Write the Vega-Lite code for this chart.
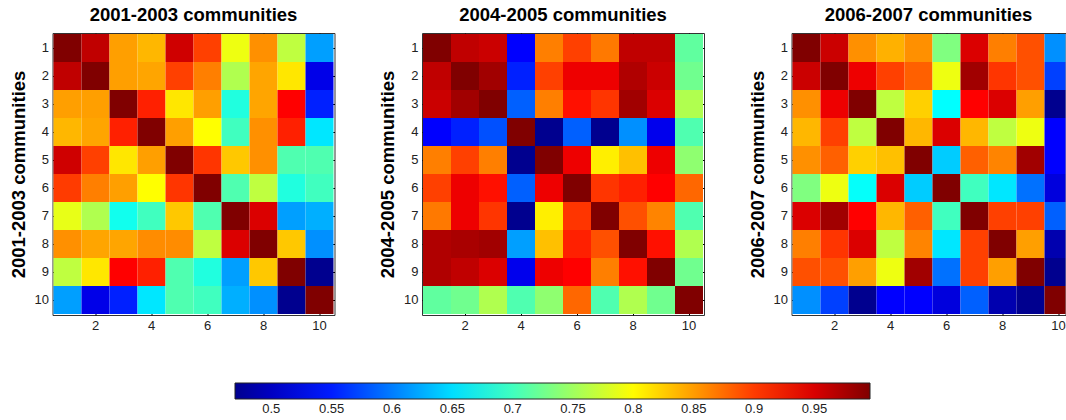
{
 "$schema": "https://vega.github.io/schema/vega-lite/v6.json",
 "padding": {"left": 8.5, "top": 5, "right": 0, "bottom": 0},
 "spacing": 42.5,
 "datasets": {
  "p1": [
   {"r":1,"c":1,"v":1.0},{"r":1,"c":2,"v":0.963},{"r":1,"c":3,"v":0.848},{"r":1,"c":4,"v":0.836},{"r":1,"c":5,"v":0.955},{"r":1,"c":6,"v":0.897},{"r":1,"c":7,"v":0.79},{"r":1,"c":8,"v":0.856},{"r":1,"c":9,"v":0.766},{"r":1,"c":10,"v":0.618},
   {"r":2,"c":1,"v":0.963},{"r":2,"c":2,"v":1.0},{"r":2,"c":3,"v":0.848},{"r":2,"c":4,"v":0.845},{"r":2,"c":5,"v":0.897},{"r":2,"c":6,"v":0.865},{"r":2,"c":7,"v":0.758},{"r":2,"c":8,"v":0.845},{"r":2,"c":9,"v":0.811},{"r":2,"c":10,"v":0.522},
   {"r":3,"c":1,"v":0.848},{"r":3,"c":2,"v":0.848},{"r":3,"c":3,"v":1.0},{"r":3,"c":4,"v":0.914},{"r":3,"c":5,"v":0.811},{"r":3,"c":6,"v":0.848},{"r":3,"c":7,"v":0.684},{"r":3,"c":8,"v":0.845},{"r":3,"c":9,"v":0.93},{"r":3,"c":10,"v":0.552},
   {"r":4,"c":1,"v":0.836},{"r":4,"c":2,"v":0.845},{"r":4,"c":3,"v":0.914},{"r":4,"c":4,"v":1.0},{"r":4,"c":5,"v":0.848},{"r":4,"c":6,"v":0.799},{"r":4,"c":7,"v":0.70},{"r":4,"c":8,"v":0.856},{"r":4,"c":9,"v":0.914},{"r":4,"c":10,"v":0.655},
   {"r":5,"c":1,"v":0.955},{"r":5,"c":2,"v":0.897},{"r":5,"c":3,"v":0.811},{"r":5,"c":4,"v":0.848},{"r":5,"c":5,"v":1.0},{"r":5,"c":6,"v":0.903},{"r":5,"c":7,"v":0.827},{"r":5,"c":8,"v":0.856},{"r":5,"c":9,"v":0.708},{"r":5,"c":10,"v":0.708},
   {"r":6,"c":1,"v":0.90},{"r":6,"c":2,"v":0.865},{"r":6,"c":3,"v":0.848},{"r":6,"c":4,"v":0.799},{"r":6,"c":5,"v":0.903},{"r":6,"c":6,"v":1.0},{"r":6,"c":7,"v":0.708},{"r":6,"c":8,"v":0.766},{"r":6,"c":9,"v":0.684},{"r":6,"c":10,"v":0.70},
   {"r":7,"c":1,"v":0.787},{"r":7,"c":2,"v":0.758},{"r":7,"c":3,"v":0.676},{"r":7,"c":4,"v":0.70},{"r":7,"c":5,"v":0.827},{"r":7,"c":6,"v":0.708},{"r":7,"c":7,"v":1.0},{"r":7,"c":8,"v":0.949},{"r":7,"c":9,"v":0.618},{"r":7,"c":10,"v":0.626},
   {"r":8,"c":1,"v":0.856},{"r":8,"c":2,"v":0.845},{"r":8,"c":3,"v":0.845},{"r":8,"c":4,"v":0.858},{"r":8,"c":5,"v":0.858},{"r":8,"c":6,"v":0.766},{"r":8,"c":7,"v":0.949},{"r":8,"c":8,"v":1.0},{"r":8,"c":9,"v":0.827},{"r":8,"c":10,"v":0.61},
   {"r":9,"c":1,"v":0.766},{"r":9,"c":2,"v":0.811},{"r":9,"c":3,"v":0.93},{"r":9,"c":4,"v":0.914},{"r":9,"c":5,"v":0.708},{"r":9,"c":6,"v":0.684},{"r":9,"c":7,"v":0.618},{"r":9,"c":8,"v":0.827},{"r":9,"c":9,"v":1.0},{"r":9,"c":10,"v":0.47},
   {"r":10,"c":1,"v":0.618},{"r":10,"c":2,"v":0.522},{"r":10,"c":3,"v":0.552},{"r":10,"c":4,"v":0.655},{"r":10,"c":5,"v":0.708},{"r":10,"c":6,"v":0.70},{"r":10,"c":7,"v":0.626},{"r":10,"c":8,"v":0.61},{"r":10,"c":9,"v":0.47},{"r":10,"c":10,"v":1.0}
  ],
  "p2": [
   {"r":1,"c":1,"v":1.0},{"r":1,"c":2,"v":0.963},{"r":1,"c":3,"v":0.957},{"r":1,"c":4,"v":0.536},{"r":1,"c":5,"v":0.865},{"r":1,"c":6,"v":0.897},{"r":1,"c":7,"v":0.868},{"r":1,"c":8,"v":0.963},{"r":1,"c":9,"v":0.963},{"r":1,"c":10,"v":0.717},
   {"r":2,"c":1,"v":0.963},{"r":2,"c":2,"v":1.0},{"r":2,"c":3,"v":0.979},{"r":2,"c":4,"v":0.552},{"r":2,"c":5,"v":0.897},{"r":2,"c":6,"v":0.939},{"r":2,"c":7,"v":0.939},{"r":2,"c":8,"v":0.971},{"r":2,"c":9,"v":0.957},{"r":2,"c":10,"v":0.725},
   {"r":3,"c":1,"v":0.957},{"r":3,"c":2,"v":0.979},{"r":3,"c":3,"v":1.0},{"r":3,"c":4,"v":0.585},{"r":3,"c":5,"v":0.865},{"r":3,"c":6,"v":0.922},{"r":3,"c":7,"v":0.903},{"r":3,"c":8,"v":0.979},{"r":3,"c":9,"v":0.949},{"r":3,"c":10,"v":0.758},
   {"r":4,"c":1,"v":0.536},{"r":4,"c":2,"v":0.552},{"r":4,"c":3,"v":0.577},{"r":4,"c":4,"v":1.0},{"r":4,"c":5,"v":0.47},{"r":4,"c":6,"v":0.585},{"r":4,"c":7,"v":0.47},{"r":4,"c":8,"v":0.61},{"r":4,"c":9,"v":0.525},{"r":4,"c":10,"v":0.708},
   {"r":5,"c":1,"v":0.865},{"r":5,"c":2,"v":0.897},{"r":5,"c":3,"v":0.865},{"r":5,"c":4,"v":0.47},{"r":5,"c":5,"v":1.0},{"r":5,"c":6,"v":0.939},{"r":5,"c":7,"v":0.807},{"r":5,"c":8,"v":0.831},{"r":5,"c":9,"v":0.939},{"r":5,"c":10,"v":0.741},
   {"r":6,"c":1,"v":0.897},{"r":6,"c":2,"v":0.939},{"r":6,"c":3,"v":0.922},{"r":6,"c":4,"v":0.585},{"r":6,"c":5,"v":0.939},{"r":6,"c":6,"v":1.0},{"r":6,"c":7,"v":0.903},{"r":6,"c":8,"v":0.914},{"r":6,"c":9,"v":0.93},{"r":6,"c":10,"v":0.877},
   {"r":7,"c":1,"v":0.868},{"r":7,"c":2,"v":0.939},{"r":7,"c":3,"v":0.903},{"r":7,"c":4,"v":0.47},{"r":7,"c":5,"v":0.807},{"r":7,"c":6,"v":0.903},{"r":7,"c":7,"v":1.0},{"r":7,"c":8,"v":0.889},{"r":7,"c":9,"v":0.862},{"r":7,"c":10,"v":0.708},
   {"r":8,"c":1,"v":0.971},{"r":8,"c":2,"v":0.975},{"r":8,"c":3,"v":0.979},{"r":8,"c":4,"v":0.618},{"r":8,"c":5,"v":0.831},{"r":8,"c":6,"v":0.914},{"r":8,"c":7,"v":0.889},{"r":8,"c":8,"v":1.0},{"r":8,"c":9,"v":0.922},{"r":8,"c":10,"v":0.758},
   {"r":9,"c":1,"v":0.971},{"r":9,"c":2,"v":0.963},{"r":9,"c":3,"v":0.949},{"r":9,"c":4,"v":0.525},{"r":9,"c":5,"v":0.939},{"r":9,"c":6,"v":0.93},{"r":9,"c":7,"v":0.865},{"r":9,"c":8,"v":0.922},{"r":9,"c":9,"v":1.0},{"r":9,"c":10,"v":0.725},
   {"r":10,"c":1,"v":0.717},{"r":10,"c":2,"v":0.725},{"r":10,"c":3,"v":0.758},{"r":10,"c":4,"v":0.708},{"r":10,"c":5,"v":0.741},{"r":10,"c":6,"v":0.877},{"r":10,"c":7,"v":0.708},{"r":10,"c":8,"v":0.758},{"r":10,"c":9,"v":0.725},{"r":10,"c":10,"v":1.0}
  ],
  "p3": [
   {"r":1,"c":1,"v":1.0},{"r":1,"c":2,"v":0.957},{"r":1,"c":3,"v":0.856},{"r":1,"c":4,"v":0.839},{"r":1,"c":5,"v":0.856},{"r":1,"c":6,"v":0.733},{"r":1,"c":7,"v":0.949},{"r":1,"c":8,"v":0.865},{"r":1,"c":9,"v":0.889},{"r":1,"c":10,"v":0.61},
   {"r":2,"c":1,"v":0.957},{"r":2,"c":2,"v":1.0},{"r":2,"c":3,"v":0.939},{"r":2,"c":4,"v":0.897},{"r":2,"c":5,"v":0.881},{"r":2,"c":6,"v":0.79},{"r":2,"c":7,"v":0.979},{"r":2,"c":8,"v":0.903},{"r":2,"c":9,"v":0.889},{"r":2,"c":10,"v":0.569},
   {"r":3,"c":1,"v":0.856},{"r":3,"c":2,"v":0.939},{"r":3,"c":3,"v":1.0},{"r":3,"c":4,"v":0.766},{"r":3,"c":5,"v":0.823},{"r":3,"c":6,"v":0.667},{"r":3,"c":7,"v":0.93},{"r":3,"c":8,"v":0.949},{"r":3,"c":9,"v":0.848},{"r":3,"c":10,"v":0.47},
   {"r":4,"c":1,"v":0.836},{"r":4,"c":2,"v":0.897},{"r":4,"c":3,"v":0.766},{"r":4,"c":4,"v":1.0},{"r":4,"c":5,"v":0.836},{"r":4,"c":6,"v":0.949},{"r":4,"c":7,"v":0.836},{"r":4,"c":8,"v":0.766},{"r":4,"c":9,"v":0.79},{"r":4,"c":10,"v":0.536},
   {"r":5,"c":1,"v":0.856},{"r":5,"c":2,"v":0.881},{"r":5,"c":3,"v":0.823},{"r":5,"c":4,"v":0.831},{"r":5,"c":5,"v":1.0},{"r":5,"c":6,"v":0.641},{"r":5,"c":7,"v":0.881},{"r":5,"c":8,"v":0.862},{"r":5,"c":9,"v":0.979},{"r":5,"c":10,"v":0.536},
   {"r":6,"c":1,"v":0.733},{"r":6,"c":2,"v":0.79},{"r":6,"c":3,"v":0.67},{"r":6,"c":4,"v":0.949},{"r":6,"c":5,"v":0.641},{"r":6,"c":6,"v":1.0},{"r":6,"c":7,"v":0.70},{"r":6,"c":8,"v":0.655},{"r":6,"c":9,"v":0.594},{"r":6,"c":10,"v":0.516},
   {"r":7,"c":1,"v":0.949},{"r":7,"c":2,"v":0.979},{"r":7,"c":3,"v":0.93},{"r":7,"c":4,"v":0.836},{"r":7,"c":5,"v":0.881},{"r":7,"c":6,"v":0.70},{"r":7,"c":7,"v":1.0},{"r":7,"c":8,"v":0.897},{"r":7,"c":9,"v":0.897},{"r":7,"c":10,"v":0.585},
   {"r":8,"c":1,"v":0.865},{"r":8,"c":2,"v":0.903},{"r":8,"c":3,"v":0.949},{"r":8,"c":4,"v":0.766},{"r":8,"c":5,"v":0.862},{"r":8,"c":6,"v":0.655},{"r":8,"c":7,"v":0.897},{"r":8,"c":8,"v":1.0},{"r":8,"c":9,"v":0.848},{"r":8,"c":10,"v":0.489},
   {"r":9,"c":1,"v":0.889},{"r":9,"c":2,"v":0.889},{"r":9,"c":3,"v":0.848},{"r":9,"c":4,"v":0.79},{"r":9,"c":5,"v":0.979},{"r":9,"c":6,"v":0.594},{"r":9,"c":7,"v":0.897},{"r":9,"c":8,"v":0.848},{"r":9,"c":9,"v":1.0},{"r":9,"c":10,"v":0.47},
   {"r":10,"c":1,"v":0.61},{"r":10,"c":2,"v":0.569},{"r":10,"c":3,"v":0.47},{"r":10,"c":4,"v":0.536},{"r":10,"c":5,"v":0.536},{"r":10,"c":6,"v":0.516},{"r":10,"c":7,"v":0.585},{"r":10,"c":8,"v":0.489},{"r":10,"c":9,"v":0.47},{"r":10,"c":10,"v":1.0}
  ]
 },
 "hconcat": [
  {
   "data": {"name": "p1"},
   "width": 282, "height": 282,
   "title": "2001-2003 communities",
   "layer": [
    {
     "mark": {"type": "rect"},
     "encoding": {
      "x": {"field": "c", "type": "ordinal", "scale": {"round": true}, "axis": {"values": [2,4,6,8,10], "title": null}},
      "y": {"field": "r", "type": "ordinal", "scale": {"round": true}, "axis": {"title": "2001-2003 communities"}},
      "color": {"field": "v", "type": "quantitative",
       "scale": {"type": "linear", "domain": [0.47, 0.53575, 0.66725, 0.79875, 0.93025, 0.996], "range": ["#00008f", "#0000ff", "#00ffff", "#ffff00", "#ff0000", "#800000"], "clamp": true, "interpolate": "rgb"},
       "legend": {"orient": "none", "legendX": 182.5, "legendY": 350, "direction": "horizontal", "gradientLength": 635, "gradientThickness": 16, "values": [0.5,0.55,0.6,0.65,0.7,0.75,0.8,0.85,0.9,0.95], "format": ".2~f", "title": null, "labelFontSize": 13, "labelColor": "#222", "gradientStrokeColor": "#222", "gradientStrokeWidth": 1, "labelOverlap": false, "labelOffset": 4}}
     }
    },
    {
     "mark": {"type": "rect", "opacity": 0},
     "encoding": {
      "x": {"field": "c", "type": "ordinal", "axis": {"orient": "top", "labels": false, "values": [2,4,6,8,10], "title": null}},
      "y": {"field": "r", "type": "ordinal", "axis": {"orient": "right", "labels": false, "title": null}}
     }
    }
   ],
   "resolve": {"axis": {"x": "independent", "y": "independent"}}
  },
  {
   "data": {"name": "p2"},
   "width": 282, "height": 282,
   "title": "2004-2005 communities",
   "layer": [
    {
     "mark": {"type": "rect"},
     "encoding": {
      "x": {"field": "c", "type": "ordinal", "scale": {"round": true}, "axis": {"values": [2,4,6,8,10], "title": null}},
      "y": {"field": "r", "type": "ordinal", "scale": {"round": true}, "axis": {"title": "2004-2005 communities"}},
      "color": {"field": "v", "type": "quantitative"}
     }
    },
    {
     "mark": {"type": "rect", "opacity": 0},
     "encoding": {
      "x": {"field": "c", "type": "ordinal", "axis": {"orient": "top", "labels": false, "values": [2,4,6,8,10], "title": null}},
      "y": {"field": "r", "type": "ordinal", "axis": {"orient": "right", "labels": false, "title": null}}
     }
    }
   ],
   "resolve": {"axis": {"x": "independent", "y": "independent"}}
  },
  {
   "data": {"name": "p3"},
   "width": 274, "height": 282,
   "title": "2006-2007 communities",
   "layer": [
    {
     "mark": {"type": "rect", "clip": true},
     "encoding": {
      "x": {"field": "c", "type": "ordinal", "scale": {"round": true, "rangeMax": 282}, "axis": {"values": [2,4,6,8,10], "title": null}},
      "y": {"field": "r", "type": "ordinal", "scale": {"round": true}, "axis": {"title": "2006-2007 communities"}},
      "color": {"field": "v", "type": "quantitative"}
     }
    },
    {
     "mark": {"type": "rect", "opacity": 0, "clip": true},
     "encoding": {
      "x": {"field": "c", "type": "ordinal", "axis": {"orient": "top", "labels": false, "values": [2,4,6,8,10], "title": null}},
      "y": {"field": "r", "type": "ordinal"}
     }
    }
   ],
   "resolve": {"axis": {"x": "independent"}}
  }
 ],
 "config": {
  "font": "Liberation Sans",
  "view": {"stroke": "#333", "strokeWidth": 1},
  "title": {"fontSize": 18.5, "fontWeight": "bold", "color": "#000", "offset": 8},
  "axis": {"domain": false, "grid": false, "tickColor": "#000", "tickSize": -5, "labelFontSize": 13, "labelColor": "#222", "labelPadding": 9, "titleFontSize": 18.5, "titleFontWeight": "bold", "titleColor": "#000", "titlePadding": 6, "zindex": 1},
  "axisX": {"labelAngle": 0}
 }
}
